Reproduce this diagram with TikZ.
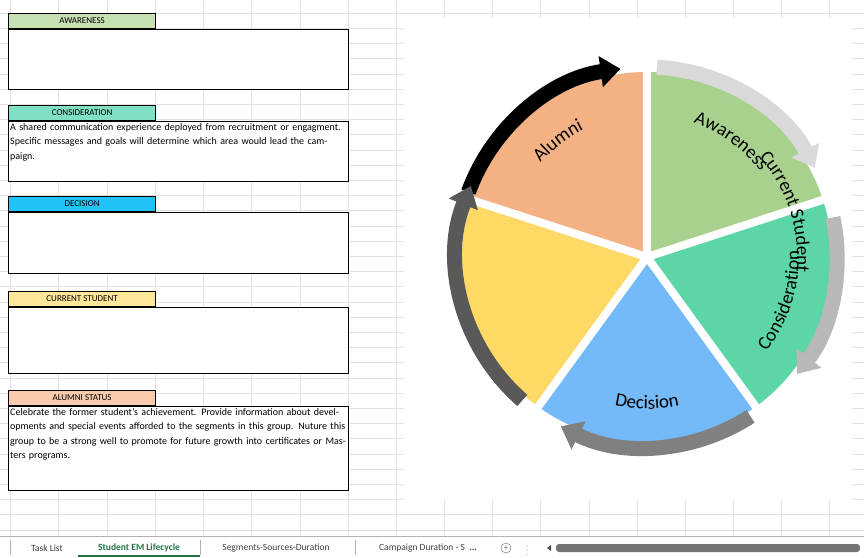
\documentclass[tikz,border=0pt]{standalone}
\usepackage{fontspec}
\setmainfont{Carlito}
\usetikzlibrary{arrows.meta,decorations.text}

\definecolor{gridgray}{HTML}{E1E1E1}
\definecolor{hdrAware}{HTML}{C6E0B4}
\definecolor{hdrCons}{HTML}{7FE0C6}
\definecolor{hdrDec}{HTML}{21C3F7}
\definecolor{hdrCur}{HTML}{FFE699}
\definecolor{hdrAlum}{HTML}{F8CBAD}
\definecolor{pieAlum}{HTML}{F4B183}
\definecolor{pieAware}{HTML}{A9D18E}
\definecolor{pieCons}{HTML}{5CD6A6}
\definecolor{pieDec}{HTML}{74B9F8}
\definecolor{pieCur}{HTML}{FFD966}
\definecolor{tabgreen}{HTML}{217346}

\tikzset{
  hdr/.style={draw,line width=1.2pt,minimum width=147pt,minimum height=15pt,inner sep=0pt,anchor=north west,font=\fontsize{9}{10}\selectfont},
  cell/.style={draw,fill=white,line width=1.2pt,minimum width=340pt,anchor=north west,inner sep=0pt},
  celltext/.style={anchor=north west,inner sep=2pt,align=left,text width=336pt,font=\fontsize{10}{14.5}\selectfont\raggedright},
  ring/.style={line width=15pt,-{Triangle[length=20pt,width=30pt]}},
  curvetext/.style={decorate,decoration={text along path,text align=center,text={|\fontsize{19}{19}\selectfont|#1}}},
  tab/.style={font=\fontsize{9.5}{10}\selectfont,text=black!75}
}

\begin{document}
\begin{tikzpicture}[x=1pt,y=-1pt]
  \useasboundingbox (0,0) rectangle (864,557);
  \fill[white] (0,0) rectangle (864,557);
  % sheet grid
  \foreach \gx in {10,58,107,155,203,251,300,348,396,444,492,540,589,637,685,733,781,829}
    \draw[gridgray] (\gx,0) -- (\gx,535);
  \foreach \gy in {0,...,35}
    \draw[gridgray] (0,13+15.2*\gy) -- (864,13+15.2*\gy);
  \fill[white] (404,18) rectangle (852,500);

  % left side cells
  \node[hdr,fill=hdrAware] (awarehdr) at (8,13) {AWARENESS};
  \node[cell,minimum height=60pt] (awarebox) at (awarehdr.south west) {};
  \node[hdr,fill=hdrCons] (conshdr) at (8,105) {CONSIDERATION};
  \node[cell,minimum height=60pt] (consbox) at (conshdr.south west) {};
  \node[celltext] (constext) at (consbox.north west)
    {A shared communication experience deployed from recruitment or engagment. Specific messages and goals will determine which area would lead the campaign.};
  \node[hdr,fill=hdrDec] (dechdr) at (8,196) {DECISION};
  \node[cell,minimum height=61pt] (decbox) at (dechdr.south west) {};
  \node[hdr,fill=hdrCur] (curhdr) at (8,291) {CURRENT STUDENT};
  \node[cell,minimum height=66pt] (curbox) at (curhdr.south west) {};
  \node[hdr,fill=hdrAlum] (alumhdr) at (8,390) {ALUMNI STATUS};
  \node[cell,minimum height=84pt] (alumbox) at (alumhdr.south west) {};
  \node[celltext] (alumtext) at (alumbox.north west)
    {Celebrate the former student's achievement. Provide information about developments and special events afforded to the segments in this group. Nuture this group to be a strong well to promote for future growth into certificates or Masters programs.};

  % lifecycle wheel
  \coordinate (c) at (647,257);
  \begin{scope}[shift={(c)},y=1pt]
    \fill[pieAlum]  (0,0) -- (162:185) arc[start angle=162,end angle=90,radius=185] -- cycle;
    \fill[pieAware] (0,0) -- (90:185)  arc[start angle=90,end angle=18,radius=185] -- cycle;
    \fill[pieCons]  (0,0) -- (18:185)  arc[start angle=18,end angle=-54,radius=185] -- cycle;
    \fill[pieDec]   (0,0) -- (-54:185) arc[start angle=-54,end angle=-126,radius=185] -- cycle;
    \fill[pieCur]   (0,0) -- (-126:185) arc[start angle=-126,end angle=-198,radius=185] -- cycle;
    \foreach \a in {90,18,-54,-126,162}
      \draw[white,line width=8pt] (0,0) -- (\a:215);
    \fill[white] (0,0) circle (7);

    \draw[ring,black]    (160:190) arc[start angle=160,end angle=98,radius=190];
    \draw[ring,black!15] (87:190)  arc[start angle=87,end angle=28,radius=190];
    \draw[ring,black!28] (12:190)  arc[start angle=12,end angle=-38,radius=190];
    \draw[ring,black!50] (-57:190) arc[start angle=-57,end angle=-117,radius=190];
    \draw[ring,black!65] (-131:190) arc[start angle=-131,end angle=-202,radius=190];

    \path[curvetext={Alumni}]          (165:142) arc[start angle=165,end angle=90,radius=142];
    \path[curvetext={Awareness}]       (90:142)  arc[start angle=90,end angle=18,radius=142];
    \path[curvetext={Consideration}]   (-54:152) arc[start angle=-54,end angle=18,radius=152];
    \path[curvetext={Decision}]        (-126:152) arc[start angle=-126,end angle=-54,radius=152];
    \path[curvetext={Current Student}] (162:150) arc[start angle=162,end angle=-126+360-360,radius=150];
  \end{scope}

  % sheet tabs
  \fill[white] (0,535) rectangle (864,557);
  \draw[black!30] (0,536) -- (864,536);
  \draw[black!30] (10,540) -- (10,555) (200,540) -- (200,555) (355,540) -- (355,555);
  \node[tab] (tasktab) at (47,548) {Task List};
  \node[tab,font=\fontsize{9.5}{10}\selectfont\bfseries,text=tabgreen] (lifetab) at (139,548) {Student EM Lifecycle};
  \draw[tabgreen,line width=1.5pt] (78,556) -- (200,556);
  \node[tab] (segtab) at (276,548) {Segments-Sources-Duration};
  \node[tab] (camptab) at (428,548) {Campaign Duration - S \ \textbf{...}};
  \node[draw,circle,black!60,inner sep=0pt,minimum size=10pt,font=\fontsize{8}{8}\selectfont] (addtab) at (506,548) {+};
  \node[text=black!40,font=\fontsize{9}{9}\selectfont] (dots) at (527,548) {$\vdots$};
  \fill[black!70] (547,548) -- (551,545) -- (551,551) -- cycle;
  \fill[black!55,rounded corners=3pt] (556,544) rectangle (860,552);
\end{tikzpicture}
\end{document}
